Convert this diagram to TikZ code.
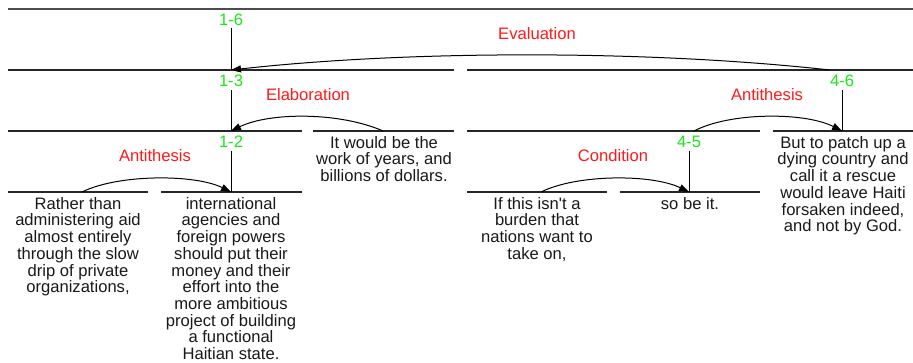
\documentclass[tikz,border=0pt]{standalone}
\usepackage{fontspec}
\newfontfamily\arialfont{Liberation Sans}
\usetikzlibrary{arrows.meta}
\definecolor{relred}{RGB}{255,25,25}
\definecolor{spangreen}{RGB}{25,230,25}
\definecolor{txtcol}{RGB}{25,25,25}
\tikzset{
  seg/.style={draw=black!85, line width=1.2pt},
  topseg/.style={draw=black!70, line width=1.8pt},
  stem/.style={draw=black, line width=1pt},
  rel/.style={draw=black, line width=1pt, -{Triangle[length=10pt,width=7pt]}},
  basefont/.style={font=\arialfont\fontsize{16.6}{16.7}\selectfont},
  spanlbl/.style={basefont, text=spangreen, inner sep=0pt, anchor=base},
  rellbl/.style={basefont, text=relred, inner sep=0pt, anchor=base},
  edu/.style={basefont, text=txtcol, align=center, inner sep=0pt, anchor=north}
}
\begin{document}
\begin{tikzpicture}[x=1pt,y=-1pt]
\useasboundingbox (0,0) rectangle (913,362);
% span lines
\coordinate (t1) at (8,9);   \coordinate (t2) at (913,9);
\coordinate (a1) at (8,70);  \coordinate (a2) at (454,70);
\coordinate (b1) at (467,70);\coordinate (b2) at (913,70);
\coordinate (c1) at (8,131); \coordinate (c2) at (302,131);
\coordinate (d1) at (313,131);\coordinate (d2) at (454,131);
\coordinate (e1) at (467,131);\coordinate (e2) at (760,131);
\coordinate (f1) at (773,131);\coordinate (f2) at (913,131);
\coordinate (g1) at (8,192); \coordinate (g2) at (148,192);
\coordinate (h1) at (161,192);\coordinate (h2) at (302,192);
\coordinate (i1) at (467,192);\coordinate (i2) at (607,192);
\coordinate (j1) at (620,192);\coordinate (j2) at (760,192);
\draw[topseg] (t1) -- (t2);
\draw[seg] (a1) -- (a2);
\draw[seg] (b1) -- (b2);
\draw[seg] (c1) -- (c2);
\draw[seg] (d1) -- (d2);
\draw[seg] (e1) -- (e2);
\draw[seg] (f1) -- (f2);
\draw[seg] (g1) -- (g2);
\draw[seg] (h1) -- (h2);
\draw[seg] (i1) -- (i2);
\draw[seg] (j1) -- (j2);
% span labels and stems
\node[spanlbl] (l16) at (231,25) {1-6};
\node[spanlbl] (l13) at (231,86.5) {1-3};
\node[spanlbl] (l12) at (231,147.3) {1-2};
\node[spanlbl] (l46) at (842,86.5) {4-6};
\node[spanlbl] (l45) at (689,147.3) {4-5};
\coordinate (m13) at (231,70);
\coordinate (m12) at (231,131);
\coordinate (m2) at (231,192);
\coordinate (m46) at (842,70);
\coordinate (m4b) at (842,131);
\coordinate (m5) at (689,192);
\coordinate (m45) at (689,131);
\draw[stem] ([yshift=-3pt]l16.south) -- (m13);
\draw[stem] ([yshift=-3pt]l13.south) -- (m12);
\draw[stem] ([yshift=-3pt]l12.south) -- (m2);
\draw[stem] ([yshift=-3pt]l46.south) -- (m4b);
\draw[stem] ([yshift=-3pt]l45.south) -- (m5);
% relation labels
\node[rellbl] (rEval) at (537,39) {Evaluation};
\node[rellbl] (rElab) at (308,100) {Elaboration};
\node[rellbl] (rAntR) at (767,100) {Antithesis};
\node[rellbl] (rAntL) at (155,161.7) {Antithesis};
\node[rellbl] (rCond) at (613,161.7) {Condition};
% relation arcs
\coordinate (sEval) at (830,70);
\coordinate (sElab) at (383,131);
\coordinate (sAntR) at (694,131);
\coordinate (sAntL) at (82,192);
\coordinate (sCond) at (541,192);
\draw[rel] (sEval) .. controls (650,50) and (410,50) .. (m13);
\draw[rel] (sElab) .. controls (340,112) and (270,112) .. (m12);
\draw[rel] (sAntR) .. controls (730,112) and (805,112) .. (m4b);
\draw[rel] (sAntL) .. controls (118,174) and (195,174) .. (m2);
\draw[rel] (sCond) .. controls (577,174) and (652,174) .. (m5);
% elementary units
\node[edu] (u1) at (78,197) {Rather than\\administering aid\\almost entirely\\through the slow\\drip of private\\organizations,};
\node[edu] (u2) at (231,197) {international\\agencies and\\foreign powers\\should put their\\money and their\\effort into the\\more ambitious\\project of building\\a functional\\Haitian state.};
\node[edu] (u3) at (384,136) {It would be the\\work of years, and\\billions of dollars.};
\node[edu] (u4) at (537,197) {If this isn't a\\burden that\\nations want to\\take on,};
\node[edu] (u5) at (690,197) {so be it.};
\node[edu] (u6) at (843,136) {But to patch up a\\dying country and\\call it a rescue\\would leave Haiti\\forsaken indeed,\\and not by God.};
\end{tikzpicture}
\end{document}
